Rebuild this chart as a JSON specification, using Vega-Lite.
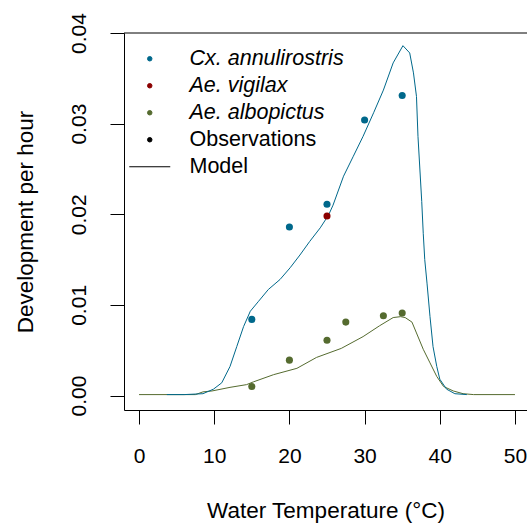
{
  "$schema": "https://vega.github.io/schema/vega-lite/v6.json",
  "width": 403,
  "height": 377,
  "autosize": {"type": "none"},
  "padding": {"left": 124, "top": 33, "right": 0, "bottom": 115},
  "background": "white",
  "config": {
    "view": {"stroke": null},
    "font": "Liberation Sans",
    "axis": {
      "domainColor": "black",
      "tickColor": "black",
      "labelColor": "black",
      "titleColor": "black",
      "labelFont": "Liberation Sans",
      "titleFont": "Liberation Sans",
      "labelFontSize": 21,
      "titleFontSize": 22.5,
      "titleFontWeight": "normal",
      "tickSize": 14,
      "grid": false
    }
  },
  "datasets": {
    "model": [
      {"species": "Ae. albopictus", "T": 0, "rate": 0.0001},
      {"species": "Ae. albopictus", "T": 7.5, "rate": 0.0001},
      {"species": "Ae. albopictus", "T": 8.5, "rate": 0.0004},
      {"species": "Ae. albopictus", "T": 9.7, "rate": 0.0005},
      {"species": "Ae. albopictus", "T": 12.1, "rate": 0.0009},
      {"species": "Ae. albopictus", "T": 14.3, "rate": 0.0012},
      {"species": "Ae. albopictus", "T": 15.2, "rate": 0.0015},
      {"species": "Ae. albopictus", "T": 17.9, "rate": 0.0023},
      {"species": "Ae. albopictus", "T": 21.0, "rate": 0.003},
      {"species": "Ae. albopictus", "T": 23.6, "rate": 0.0042},
      {"species": "Ae. albopictus", "T": 26.9, "rate": 0.0052},
      {"species": "Ae. albopictus", "T": 29.8, "rate": 0.0065},
      {"species": "Ae. albopictus", "T": 32.0, "rate": 0.0077},
      {"species": "Ae. albopictus", "T": 33.8, "rate": 0.0086},
      {"species": "Ae. albopictus", "T": 34.8, "rate": 0.0087},
      {"species": "Ae. albopictus", "T": 35.4, "rate": 0.0086},
      {"species": "Ae. albopictus", "T": 36.3, "rate": 0.0081},
      {"species": "Ae. albopictus", "T": 36.9, "rate": 0.0069},
      {"species": "Ae. albopictus", "T": 37.8, "rate": 0.0051},
      {"species": "Ae. albopictus", "T": 38.7, "rate": 0.0036},
      {"species": "Ae. albopictus", "T": 39.6, "rate": 0.0021},
      {"species": "Ae. albopictus", "T": 40.5, "rate": 0.001},
      {"species": "Ae. albopictus", "T": 41.8, "rate": 0.0005},
      {"species": "Ae. albopictus", "T": 43.1, "rate": 0.0002},
      {"species": "Ae. albopictus", "T": 44.5, "rate": 0.0001},
      {"species": "Ae. albopictus", "T": 50, "rate": 0.0001},
      {"species": "Cx. annulirostris", "T": 3.7, "rate": 0.0001},
      {"species": "Cx. annulirostris", "T": 6.0, "rate": 0.0001},
      {"species": "Cx. annulirostris", "T": 8.5, "rate": 0.0002},
      {"species": "Cx. annulirostris", "T": 9.9, "rate": 0.0007},
      {"species": "Cx. annulirostris", "T": 11.0, "rate": 0.0014},
      {"species": "Cx. annulirostris", "T": 12.1, "rate": 0.0032},
      {"species": "Cx. annulirostris", "T": 13.0, "rate": 0.0054},
      {"species": "Cx. annulirostris", "T": 13.9, "rate": 0.0076},
      {"species": "Cx. annulirostris", "T": 14.8, "rate": 0.0093},
      {"species": "Cx. annulirostris", "T": 15.9, "rate": 0.0104},
      {"species": "Cx. annulirostris", "T": 17.2, "rate": 0.0117},
      {"species": "Cx. annulirostris", "T": 18.75, "rate": 0.0128},
      {"species": "Cx. annulirostris", "T": 20.1, "rate": 0.0141},
      {"species": "Cx. annulirostris", "T": 21.4, "rate": 0.0155},
      {"species": "Cx. annulirostris", "T": 22.7, "rate": 0.017},
      {"species": "Cx. annulirostris", "T": 24.1, "rate": 0.0185},
      {"species": "Cx. annulirostris", "T": 25.2, "rate": 0.0199},
      {"species": "Cx. annulirostris", "T": 25.8, "rate": 0.021},
      {"species": "Cx. annulirostris", "T": 27.2, "rate": 0.0242},
      {"species": "Cx. annulirostris", "T": 28.5, "rate": 0.0264},
      {"species": "Cx. annulirostris", "T": 29.8, "rate": 0.0286},
      {"species": "Cx. annulirostris", "T": 31.2, "rate": 0.0312},
      {"species": "Cx. annulirostris", "T": 32.5, "rate": 0.0337},
      {"species": "Cx. annulirostris", "T": 33.8, "rate": 0.0367},
      {"species": "Cx. annulirostris", "T": 35.1, "rate": 0.0386},
      {"species": "Cx. annulirostris", "T": 36.0, "rate": 0.0378},
      {"species": "Cx. annulirostris", "T": 36.5, "rate": 0.0356},
      {"species": "Cx. annulirostris", "T": 36.9, "rate": 0.033},
      {"species": "Cx. annulirostris", "T": 37.1, "rate": 0.0286},
      {"species": "Cx. annulirostris", "T": 37.6, "rate": 0.0214},
      {"species": "Cx. annulirostris", "T": 37.8, "rate": 0.0179},
      {"species": "Cx. annulirostris", "T": 38.0, "rate": 0.015},
      {"species": "Cx. annulirostris", "T": 38.3, "rate": 0.0124},
      {"species": "Cx. annulirostris", "T": 38.7, "rate": 0.0087},
      {"species": "Cx. annulirostris", "T": 39.1, "rate": 0.0054},
      {"species": "Cx. annulirostris", "T": 39.6, "rate": 0.0032},
      {"species": "Cx. annulirostris", "T": 40.0, "rate": 0.0018},
      {"species": "Cx. annulirostris", "T": 40.9, "rate": 0.0007},
      {"species": "Cx. annulirostris", "T": 42.0, "rate": 0.0002},
      {"species": "Cx. annulirostris", "T": 43.6, "rate": 0.0001}
    ],
    "obs": [
      {"species": "Cx. annulirostris", "T": 15, "rate": 0.0084},
      {"species": "Cx. annulirostris", "T": 20, "rate": 0.0186},
      {"species": "Cx. annulirostris", "T": 25, "rate": 0.0211},
      {"species": "Cx. annulirostris", "T": 30, "rate": 0.0304},
      {"species": "Cx. annulirostris", "T": 35, "rate": 0.0331},
      {"species": "Ae. vigilax", "T": 25, "rate": 0.0198},
      {"species": "Ae. albopictus", "T": 15, "rate": 0.001},
      {"species": "Ae. albopictus", "T": 20, "rate": 0.0039},
      {"species": "Ae. albopictus", "T": 25, "rate": 0.0061},
      {"species": "Ae. albopictus", "T": 27.5, "rate": 0.0081},
      {"species": "Ae. albopictus", "T": 32.5, "rate": 0.0088},
      {"species": "Ae. albopictus", "T": 35, "rate": 0.0091}
    ]
  },
  "encoding": {
    "x": {
      "field": "T",
      "type": "quantitative",
      "scale": {"domain": [-2, 51.6], "nice": false, "zero": false},
      "axis": {
        "values": [0, 10, 20, 30, 40, 50],
        "title": "Water Temperature (°C)",
        "labelPadding": 21,
        "titlePadding": 33
      }
    },
    "y": {
      "field": "rate",
      "type": "quantitative",
      "scale": {"domain": [-0.0016, 0.04], "nice": false, "zero": false},
      "axis": {
        "values": [0, 0.01, 0.02, 0.03, 0.04],
        "format": ".2f",
        "labelAngle": 270,
        "labelAlign": "center",
        "labelBaseline": "bottom",
        "labelPadding": 21,
        "title": "Development per hour",
        "titlePadding": 31
      }
    },
    "color": {
      "field": "species",
      "type": "nominal",
      "scale": {
        "domain": ["Cx. annulirostris", "Ae. vigilax", "Ae. albopictus", "Observations", "Model"],
        "range": ["#00688B", "#8B0000", "#556B2F", "#000000", "#000000"]
      },
      "legend": {
        "title": null,
        "orient": "none",
        "legendX": 15,
        "legendY": 15,
        "padding": 0,
        "labelFont": "Liberation Sans",
        "labelFontSize": 21.5,
        "labelColor": "black",
        "labelLimit": 400,
        "labelOffset": 29,
        "rowPadding": 4,
        "symbolSize": 1681,
        "symbolStrokeWidth": 1,
        "encode": {
          "labels": {
            "update": {
              "fontStyle": {"signal": "datum.value === 'Observations' || datum.value === 'Model' ? 'normal' : 'italic'"}
            }
          },
          "symbols": {
            "update": {
              "shape": {"signal": "datum.value === 'Model' ? 'stroke' : 'circle'"},
              "size": {"signal": "datum.value === 'Model' ? 1681 : 20"},
              "fill": {"signal": "datum.value === 'Model' ? 'transparent' : scale('color', datum.value)"},
              "stroke": {"signal": "datum.value === 'Model' ? 'black' : 'transparent'"},
              "strokeWidth": {"value": 1},
              "opacity": {"value": 1}
            }
          }
        }
      }
    }
  },
  "layer": [
    {
      "data": {"name": "top_border", "values": [{"edge": 0.04}]},
      "mark": {"type": "rule", "color": "black", "strokeWidth": 1},
      "encoding": {
        "x": null,
        "color": null,
        "y": {"field": "edge", "type": "quantitative"}
      }
    },
    {
      "data": {"name": "model"},
      "mark": {"type": "line", "strokeWidth": 1, "interpolate": "linear"}
    },
    {
      "data": {"name": "obs"},
      "mark": {"type": "point", "filled": true, "shape": "circle", "size": 50, "opacity": 1}
    }
  ]
}
